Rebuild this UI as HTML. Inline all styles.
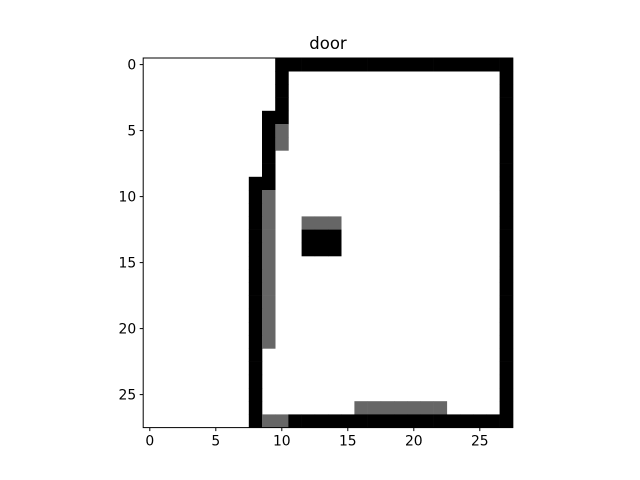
<!DOCTYPE html>
<html><head><meta charset="utf-8"><style>body{margin:0;background:#fff}svg{display:block;font-family:"DejaVu Sans","Liberation Sans",sans-serif}</style></head>
<body>
<svg id="chart" width="640" height="480" viewBox="0 0 640 480" xmlns="http://www.w3.org/2000/svg">
<text x="328" y="49" font-size="16.5" text-anchor="middle">door</text>
<g id="cells"></g>
<rect x="143.2" y="58" width="369.6" height="369.6" fill="none" stroke="#000" stroke-width="1"/>
<g id="ticks"></g>
</svg>
<script>
// 0 = white, 1 = gray, 2 = black
const rows = [
"0000000000222222222222222222",
"0000000000200000000000000002",
"0000000000200000000000000002",
"0000000000200000000000000002",
"0000000002200000000000000002",
"0000000002100000000000000002",
"0000000002100000000000000002",
"0000000002000000000000000002",
"0000000002000000000000000002",
"0000000022000000000000000002",
"0000000021000000000000000002",
"0000000021000000000000000002",
"0000000021001110000000000002",
"0000000021002220000000000002",
"0000000021002220000000000002",
"0000000021000000000000000002",
"0000000021000000000000000002",
"0000000021000000000000000002",
"0000000021000000000000000002",
"0000000021000000000000000002",
"0000000021000000000000000002",
"0000000021000000000000000002",
"0000000020000000000000000002",
"0000000020000000000000000002",
"0000000020000000000000000002",
"0000000020000000000000000002",
"0000000020000000111111100002",
"0000000021122222222222222222"
];
const xTicks = [0,5,10,15,20,25];
const yTicks = [0,5,10,15,20,25];
const colors = ["#ffffff","#666666","#000000"];
const NS="http://www.w3.org/2000/svg";
const x0=143.2, y0=58, cs=369.6/28;
function sx(c){return x0+(c+0.5)*cs;}
function sy(r){return y0+(r+0.5)*cs;}
const cg=document.getElementById('cells');
rows.forEach((row,r)=>{[...row].forEach((v,c)=>{
  if(v==="0")return;
  const el=document.createElementNS(NS,'rect');
  
  
  el.setAttribute('x',(sx(c)-cs/2).toFixed(2));
  el.setAttribute('y',(sy(r)-cs/2).toFixed(2));
  el.setAttribute('width',(cs+0.3).toFixed(2));
  el.setAttribute('height',(cs+0.3).toFixed(2));
  el.setAttribute('fill',colors[+v]);
  cg.appendChild(el);
});});
const tg=document.getElementById('ticks');
const yb=y0+369.6;
xTicks.forEach(t=>{
  const l=document.createElementNS(NS,'line');
  
  
  l.setAttribute('x1',sx(t));l.setAttribute('x2',sx(t));
  l.setAttribute('y1',yb);l.setAttribute('y2',yb+3.5);
  l.setAttribute('stroke','#000');
  tg.appendChild(l);
  const tx=document.createElementNS(NS,'text');
  
  
  tx.setAttribute('x',sx(t));tx.setAttribute('y',yb+18);
  tx.setAttribute('font-size','13.9');tx.setAttribute('text-anchor','middle');
  tx.textContent=t;
  tg.appendChild(tx);
});
yTicks.forEach(t=>{
  const l=document.createElementNS(NS,'line');
  
  
  l.setAttribute('x1',x0-3.5);l.setAttribute('x2',x0);
  l.setAttribute('y1',sy(t));l.setAttribute('y2',sy(t));
  l.setAttribute('stroke','#000');
  tg.appendChild(l);
  const tx=document.createElementNS(NS,'text');
  
  
  tx.setAttribute('x',x0-7);tx.setAttribute('y',sy(t)+5);
  tx.setAttribute('font-size','13.9');tx.setAttribute('text-anchor','end');
  tx.textContent=t;
  tg.appendChild(tx);
});
</script>
</body></html>
